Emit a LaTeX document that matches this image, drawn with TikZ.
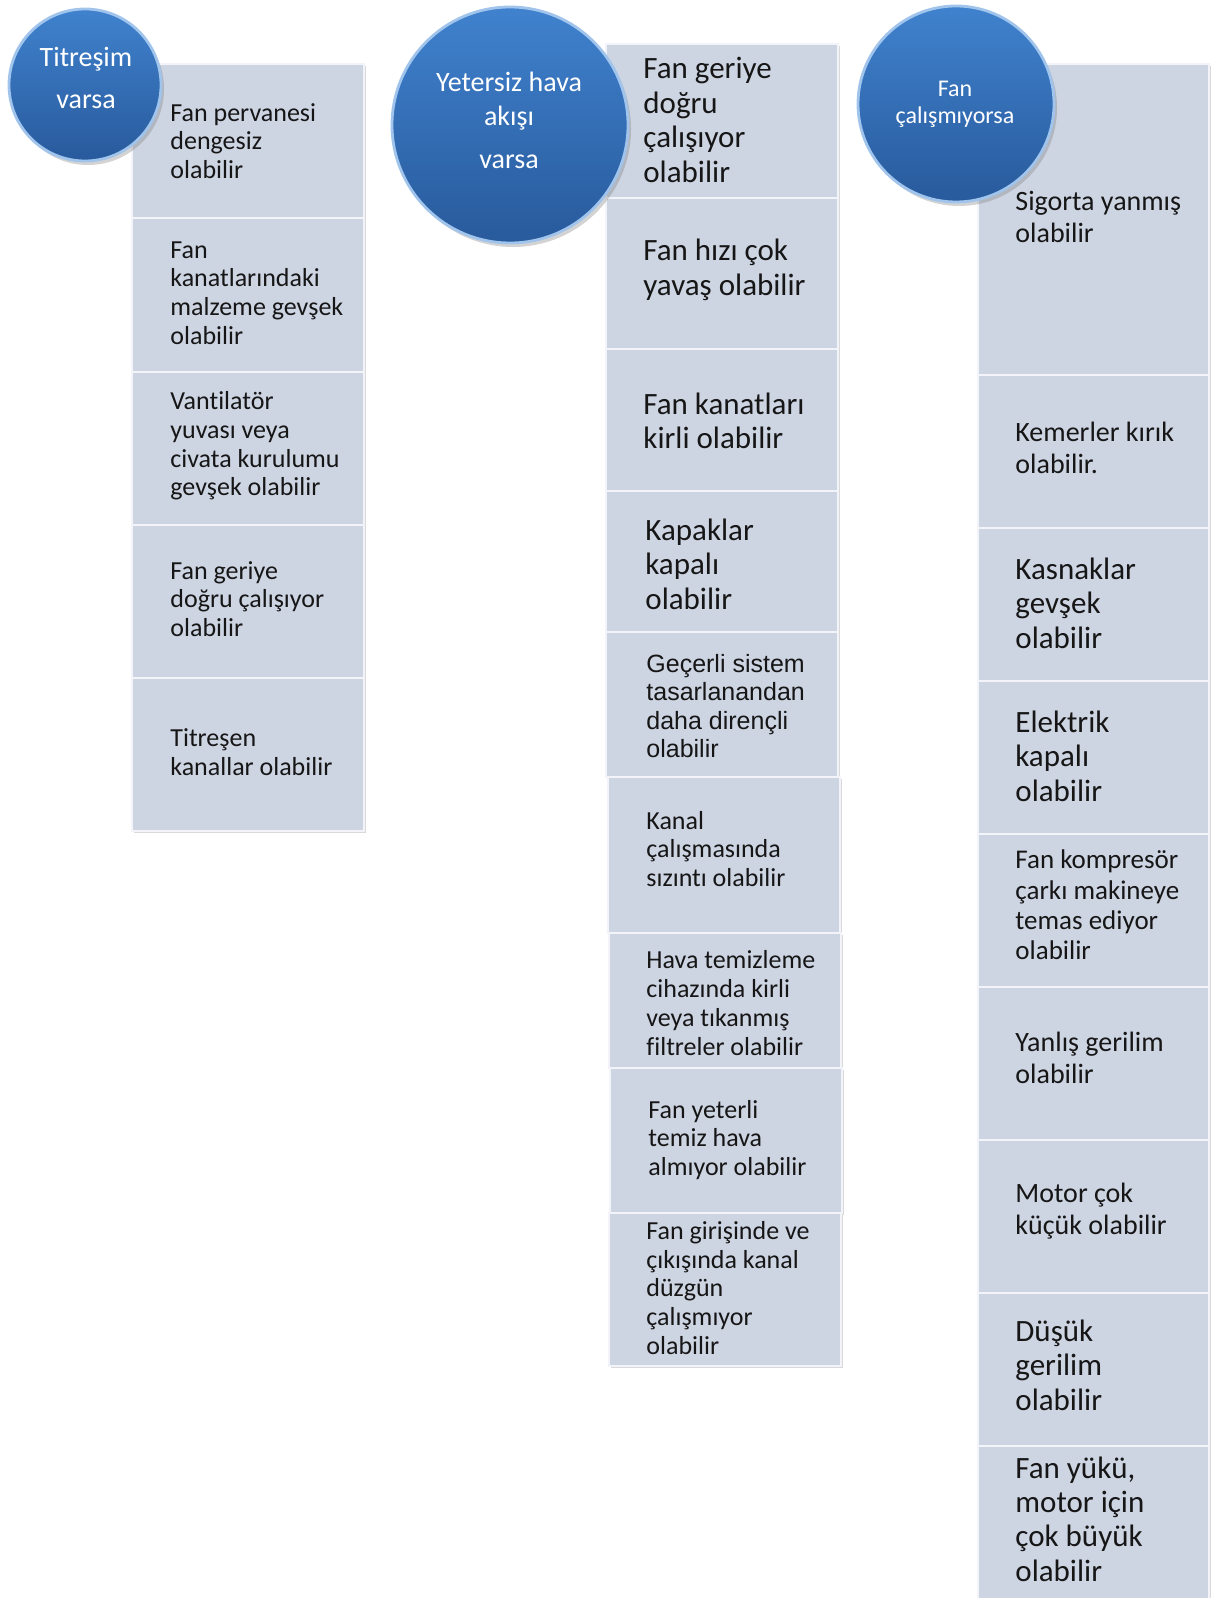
\documentclass[tikz,border=0pt]{standalone}
\usepackage{fontspec}
\setmainfont{Carlito}[Ligatures=NoCommon]
\newfontfamily\arialfont{Liberation Sans}
\usetikzlibrary{shadows}
\definecolor{boxfill}{RGB}{205,212,226}
\definecolor{boxedge}{RGB}{242,244,249}
\definecolor{balltop}{RGB}{64,130,206}
\definecolor{ballbottom}{RGB}{40,90,156}
\definecolor{ballrim}{RGB}{160,196,236}
\definecolor{causeink}{RGB}{22,22,22}

\tikzset{
  causebox/.style={fill=boxfill, draw=boxedge, line width=1.2pt,
    drop shadow={shadow xshift=1.2pt, shadow yshift=-1.2pt, opacity=0.3}},
  causetext/.style={anchor=west, align=left, inner sep=0pt, text=causeink},
  sizeS/.style={font=\fontsize{13}{14.4}\selectfont},
  sizeM/.style={font=\fontsize{14}{15.7}\selectfont},
  sizeL/.style={font=\fontsize{15.5}{17.2}\selectfont},
  topic/.style={circle, top color=balltop, bottom color=ballbottom,
    draw=ballrim, line width=1.4pt, inner sep=0pt,
    drop shadow={shadow xshift=1.5pt, shadow yshift=-2pt, opacity=0.35}},
  topictext/.style={text=white, align=center, inner sep=0pt}
}

\begin{document}
\begin{tikzpicture}[x=0.5pt, y=-0.5pt]
        % Page frame, in pixels of the original picture
        \useasboundingbox (0,0) rectangle (1215,1598);
        \clip (0,0) rectangle (1215,1598);

        % First column: vibration
        \draw[causebox] (132,64) rectangle (364,218);
        \draw[causebox] (132,218) rectangle (364,372);
        \draw[causebox] (132,372) rectangle (364,525);
        \draw[causebox] (132,525) rectangle (364,678);
        \draw[causebox] (132,678) rectangle (364,831);
        \node[causetext, sizeS] (vib1) at (170,141) {Fan pervanesi\\dengesiz\\olabilir};
        \node[causetext, sizeS] (vib2) at (170,293) {Fan\\kanatlarındaki\\malzeme gevşek\\olabilir};
        \node[causetext, sizeS] (vib3) at (170,446) {Vantilatör\\yuvası veya\\civata kurulumu\\gevşek olabilir};
        \node[causetext, sizeS] (vib4) at (170,599) {Fan geriye\\doğru çalışıyor\\olabilir};
        \node[causetext, sizeS] (vib5) at (170,752) {Titreşen\\kanallar olabilir};

        % Second column: too little air flow
        \draw[causebox] (606,44) rectangle (838,198);
        \draw[causebox] (606,198) rectangle (838,349);
        \draw[causebox] (606,349) rectangle (838,491);
        \draw[causebox] (606,491) rectangle (838,632);
        \draw[causebox] (606,632) rectangle (838,777);
        \draw[causebox] (608,777) rectangle (840,933);
        \draw[causebox] (609,933) rectangle (841,1068);
        \draw[causebox] (610,1068) rectangle (842,1213);
        \draw[causebox] (609,1213) rectangle (841,1366);
        \node[causetext, sizeL] (air1) at (643,120) {Fan geriye\\doğru\\çalışıyor\\olabilir};
        \node[causetext, sizeL] (air2) at (643,270) {Fan hızı çok\\yavaş olabilir};
        \node[causetext, sizeL] (air3) at (643,421) {Fan kanatları\\kirli olabilir};
        \node[causetext, sizeL] (air4) at (645,564) {Kapaklar\\kapalı\\olabilir};
        \node[causetext, font=\arialfont\fontsize{12.5}{14.3}\selectfont] (air5) at (646,706) {Geçerli sistem\\tasarlanandan\\daha dirençli\\olabilir};
        \node[causetext, sizeS] (air6) at (646,849) {Kanal\\çalışmasında\\sızıntı olabilir};
        \node[causetext, sizeS] (air7) at (646,1003) {Hava temizleme\\cihazında kirli\\veya tıkanmış\\filtreler olabilir};
        \node[causetext, sizeS] (air8) at (648,1140) {Fan yeterli\\temiz hava\\almıyor olabilir};
        \node[causetext, sizeS] (air9) at (646,1288) {Fan girişinde ve\\çıkışında kanal\\düzgün\\çalışmıyor\\olabilir};

        % Third column: fan does not run
        \draw[causebox] (978,64) rectangle (1209,375);
        \draw[causebox] (978,375) rectangle (1209,528);
        \draw[causebox] (978,528) rectangle (1209,681);
        \draw[causebox] (978,681) rectangle (1209,834);
        \draw[causebox] (978,834) rectangle (1209,987);
        \draw[causebox] (978,987) rectangle (1209,1140);
        \draw[causebox] (978,1140) rectangle (1209,1293);
        \draw[causebox] (978,1293) rectangle (1209,1446);
        \draw[causebox] (978,1446) rectangle (1209,1620);
        \node[causetext, sizeM] (run1) at (1015,217) {Sigorta yanmış\\olabilir};
        \node[causetext, sizeM] (run2) at (1015,448) {Kemerler kırık\\olabilir.};
        \node[causetext, sizeL] (run3) at (1015,603) {Kasnaklar\\gevşek\\olabilir};
        \node[causetext, sizeL] (run4) at (1015,756) {Elektrik\\kapalı\\olabilir};
        \node[causetext, font=\fontsize{13.5}{15.2}\selectfont] (run5) at (1015,905) {Fan kompresör\\çarkı makineye\\temas ediyor\\olabilir};
        \node[causetext, sizeM] (run6) at (1015,1058) {Yanlış gerilim\\olabilir};
        \node[causetext, sizeM] (run7) at (1015,1211) {Motor çok\\küçük olabilir};
        \node[causetext, sizeL] (run8) at (1015,1365) {Düşük\\gerilim\\olabilir};
        \node[causetext, sizeL] (run9) at (1015,1519) {Fan yükü,\\motor için\\çok büyük\\olabilir};

        % Topic circles on top of the columns
        \node[topic, minimum size=76pt] (vibration) at (85,85) {};
        \node[topic, minimum size=118pt] (airflow) at (510,125) {};
        \node[topic, minimum size=98pt] (norun) at (956,104) {};
        \node[topictext, font=\fontsize{14}{17}\selectfont] (vibration-txt) at (86,78) {Titreşim\\[4pt]varsa};
        \node[topictext, font=\fontsize{14}{17}\selectfont] (airflow-txt) at (509,120) {Yetersiz hava\\akışı\\[4.5pt]varsa};
        \node[topictext, font=\fontsize{12}{13.5}\selectfont] (norun-txt) at (955,104) {Fan\\çalışmıyorsa};
\end{tikzpicture}
\end{document}
